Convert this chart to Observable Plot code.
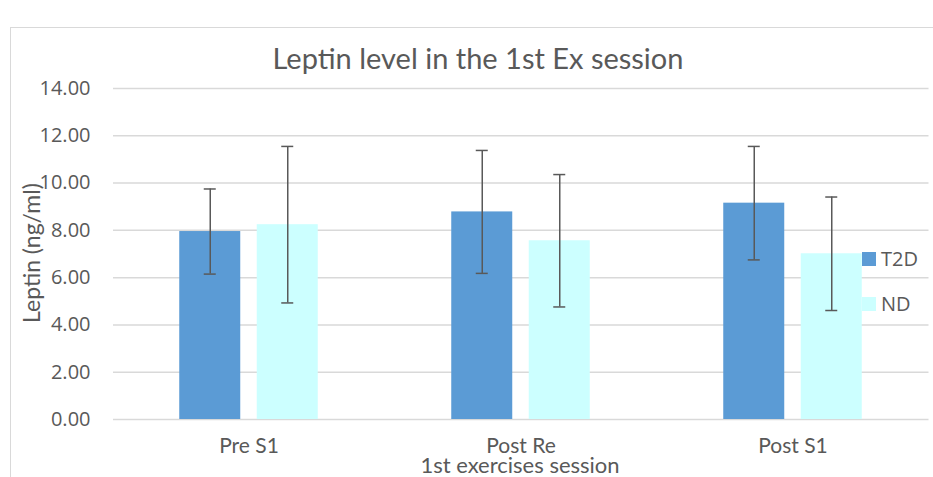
<!DOCTYPE html>
<html>
<head>
<meta charset="utf-8">
<script src="https://cdn.jsdelivr.net/npm/d3@7"></script>
<script src="https://cdn.jsdelivr.net/npm/@observablehq/plot@0.6"></script>
<style>
  html, body { margin: 0; padding: 0; background: #fff; }
  #wrap { position: relative; width: 933px; height: 477px; overflow: hidden; font-family: Lato, "Open Sans", sans-serif; color: #595959; }
  #frame { position: absolute; left: 10px; top: 27px; width: 940px; height: 470px; border: 1px solid #D9D9D9; box-sizing: border-box; }
  #title { position: absolute; left: 0; width: 956px; top: 57px; transform: translateY(-50%); text-align: center; font-size: 29px; line-height: 1; }
  #ylabel { position: absolute; left: 31px; top: 253px; transform: translate(-50%, -50%) rotate(-90deg); font-size: 23px; line-height: 1; white-space: nowrap; }
  #xlabel { position: absolute; left: 520px; top: 465px; transform: translate(-50%, -50%); font-size: 22px; line-height: 1; white-space: nowrap; }
  .leg { position: absolute; left: 862px; font-family: "Open Sans", sans-serif; font-size: 20px; line-height: 1; display: flex; align-items: center; }
  .sw { width: 14px; height: 14px; margin-right: 5px; }
  #chart { position: absolute; left: 0; top: 0; }
</style>
</head>
<body>
<div id="wrap">
  <div id="frame"></div>
  <div id="chart"></div>
  <div id="title">Leptin level in the 1st Ex session</div>
  <div id="ylabel">Leptin (ng/ml)</div>
  <div id="xlabel">1st exercises session</div>
  <div class="leg" style="top:249px"><div class="sw" style="background:#5B9BD5"></div>T2D</div>
  <div class="leg" style="top:294px"><div class="sw" style="background:#CCFFFF"></div>ND</div>
</div>
<script>
const categories = ["Pre S1", "Post Re", "Post S1"];
const seriesNames = ["T2D", "ND"];
const t2dMeans = [7.95, 8.78, 9.15];
const t2dErr = [1.8, 2.6, 2.4];
const ndMeans = [8.24, 7.56, 7.01];
const ndErr = [3.31, 2.8, 2.4];
const yTicks = [0, 2, 4, 6, 8, 10, 12, 14];

const t2d = categories.map((c, i) => ({cat: c, v: t2dMeans[i], lo: t2dMeans[i] - t2dErr[i], hi: t2dMeans[i] + t2dErr[i]}));
const nd = categories.map((c, i) => ({cat: c, v: ndMeans[i], lo: ndMeans[i] - ndErr[i], hi: ndMeans[i] + ndErr[i]}));

const off = 38.75;
const errStyle = {stroke: "#595959", strokeWidth: 1.5};
const capInset = 24.5;

const chart = Plot.plot({
  width: 933,
  height: 477,
  marginLeft: 112,
  marginRight: 4.5,
  marginTop: 88,
  marginBottom: 58,
  style: {fontFamily: "Lato, 'Open Sans', sans-serif", fontSize: "17px", color: "#595959", background: "transparent"},
  x: {domain: categories, paddingInner: 0.776, paddingOuter: 0.388, label: null, tickSize: 0, tickPadding: 0},
  y: {domain: [0, 14], ticks: yTicks, tickFormat: d3.format(".2f"), label: null, tickSize: 0, tickPadding: 0},
  marks: [
    Plot.ruleY(yTicks, {stroke: "#D9D9D9", strokeWidth: 1.5, insetLeft: 1}),
    Plot.barY(t2d, {x: "cat", y: "v", dx: -off, fill: "#5B9BD5"}),
    Plot.barY(nd, {x: "cat", y: "v", dx: off, fill: "#CCFFFF"}),
    Plot.ruleX(t2d, {x: "cat", y1: "lo", y2: "hi", dx: -off, ...errStyle}),
    Plot.ruleX(nd, {x: "cat", y1: "lo", y2: "hi", dx: off, ...errStyle}),
    Plot.tickY(t2d, {x: "cat", y: "lo", dx: -off, insetLeft: capInset, insetRight: capInset, ...errStyle}),
    Plot.tickY(t2d, {x: "cat", y: "hi", dx: -off, insetLeft: capInset, insetRight: capInset, ...errStyle}),
    Plot.tickY(nd, {x: "cat", y: "lo", dx: off, insetLeft: capInset, insetRight: capInset, ...errStyle}),
    Plot.tickY(nd, {x: "cat", y: "hi", dx: off, insetLeft: capInset, insetRight: capInset, ...errStyle}),
    Plot.axisY({ticks: yTicks, tickFormat: d3.format(".2f"), tickSize: 0, tickPadding: 22, fontFamily: "'Open Sans', sans-serif", fontSize: 20}),
    Plot.axisX({tickSize: 0, tickPadding: 19, fontSize: 21})
  ]
});
document.getElementById("chart").appendChild(chart);
</script>
</body>
</html>
